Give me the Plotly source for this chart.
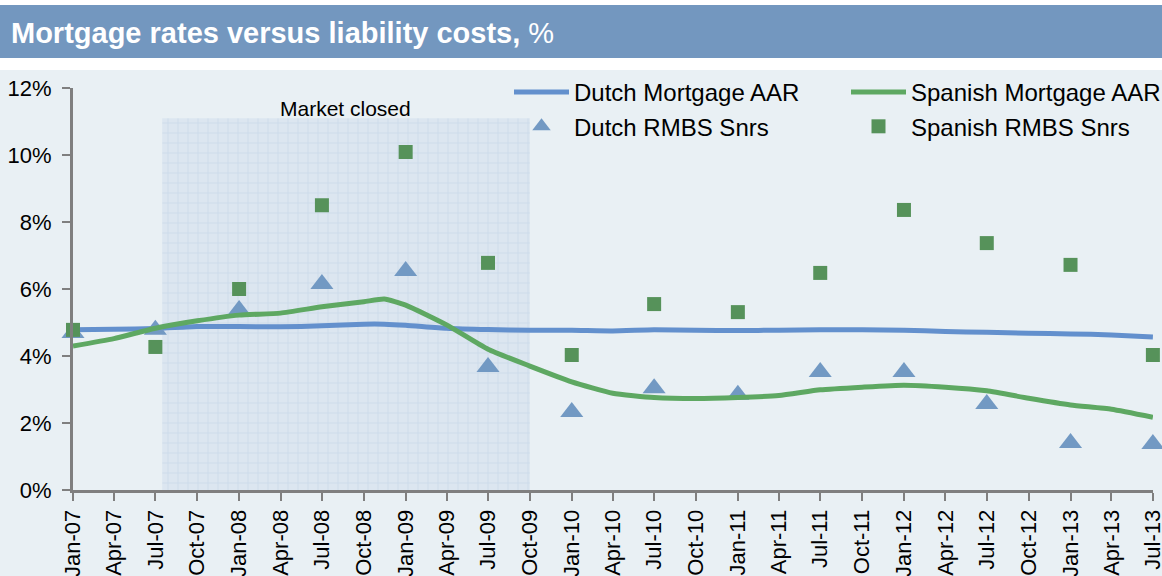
import plotly.graph_objects as go

# ---- data ----
line_dates = ["2007-01-01","2007-04-01","2007-07-01","2007-10-01","2008-01-01","2008-04-01",
              "2008-07-01","2008-10-01","2008-11-15","2009-01-01","2009-04-01","2009-07-01",
              "2009-10-01","2010-01-01","2010-04-01","2010-07-01","2010-10-01","2011-01-01",
              "2011-04-01","2011-07-01","2011-10-01","2012-01-01","2012-04-01","2012-07-01",
              "2012-10-01","2013-01-01","2013-04-01","2013-07-01"]
dutch_aar = [4.78,4.80,4.82,4.88,4.88,4.87,4.90,4.95,4.95,4.92,4.83,4.79,4.77,4.77,4.75,4.78,
             4.77,4.76,4.77,4.78,4.78,4.77,4.73,4.71,4.68,4.66,4.63,4.57]
spanish_aar = [4.30,4.52,4.83,5.05,5.22,5.28,5.47,5.62,5.70,5.52,4.93,4.20,3.70,3.23,2.89,2.76,
               2.73,2.76,2.82,2.99,3.07,3.13,3.07,2.96,2.74,2.54,2.41,2.17]

rmbs_dates = ["2007-01-01","2007-07-01","2008-01-01","2008-07-01","2009-01-01","2009-07-01",
              "2010-01-01","2010-07-01","2011-01-01","2011-07-01","2012-01-01","2012-07-01",
              "2013-01-01","2013-07-01"]
dutch_rmbs = [4.69,4.78,5.37,6.15,6.54,3.67,2.33,3.04,2.84,3.52,3.52,2.57,1.40,1.37]
spanish_rmbs = [4.78,4.27,6.00,8.50,10.09,6.78,4.03,5.55,5.31,6.48,8.36,7.37,6.72,4.03]

closed_start, closed_end, closed_top = "2007-07-16", "2009-10-01", 11.1
y_ticks = [0, 2, 4, 6, 8, 10, 12]
y_labels = ["0%", "2%", "4%", "6%", "8%", "10%", "12%"]

FONT = "Liberation Sans, Arial, sans-serif"
W, H = 1162, 576
ML, MR, MT, MB = 73, 9, 88, 86
PW, PH = W - ML - MR, H - MT - MB

def px_x(p):
    return (p - ML) / PW

def px_y(p):
    return (H - MB - p) / PH

fig = go.Figure()

# market closed shaded region
fig.add_trace(go.Scatter(
    x=[closed_start, closed_start, closed_end, closed_end, closed_start],
    y=[0, closed_top, closed_top, 0, 0],
    mode="lines", fill="toself", line=dict(width=0),
    fillcolor="#DCE6F0",
    fillpattern=dict(shape="+", size=10, solidity=0.15, fgcolor="#BACDE3", bgcolor="#DCE6F0"),
    showlegend=False, hoverinfo="skip",
))

fig.add_trace(go.Scatter(
    x=line_dates, y=dutch_aar, mode="lines", name="Dutch Mortgage AAR",
    line=dict(color="#6390CD", width=5, shape="spline", smoothing=0.5),
    legend="legend", legendgroup="a", cliponaxis=False,
))
fig.add_trace(go.Scatter(
    x=rmbs_dates, y=dutch_rmbs, mode="markers", name="Dutch RMBS Snrs",
    marker=dict(symbol="triangle-up", size=20, color="#7299C3"),
    legend="legend", legendgroup="b", cliponaxis=False,
))
fig.add_trace(go.Scatter(
    x=line_dates, y=spanish_aar, mode="lines", name="Spanish Mortgage AAR",
    line=dict(color="#5EA862", width=5, shape="spline", smoothing=0.5),
    legend="legend2", legendgroup="c", cliponaxis=False,
))
fig.add_trace(go.Scatter(
    x=rmbs_dates, y=spanish_rmbs, mode="markers", name="Spanish RMBS Snrs",
    marker=dict(symbol="square", size=14, color="#56925A"),
    legend="legend2", legendgroup="d", cliponaxis=False,
))

shapes = [
    # light background below title
    dict(type="rect", xref="paper", yref="paper", x0=px_x(0), x1=px_x(W), y0=px_y(H), y1=px_y(70),
         fillcolor="#E9F0F4", line=dict(width=0), layer="below"),
    # title bar
    dict(type="rect", xref="paper", yref="paper", x0=px_x(0), x1=px_x(W), y0=px_y(58), y1=px_y(5),
         fillcolor="#7397BF", line=dict(width=0), layer="below"),
]

annotations = [
    dict(text="<b>Mortgage rates versus liability costs,</b> %", xref="paper", yref="paper",
         x=px_x(9), y=px_y(33), xanchor="left", yanchor="middle", showarrow=False,
         font=dict(family=FONT, size=29, color="white")),
    dict(text="Market closed", xref="paper", yref="paper", x=px_x(345), y=px_y(108),
         xanchor="center", yanchor="middle", showarrow=False,
         font=dict(family=FONT, size=21, color="black")),
]

legend_common = dict(
    orientation="v", bgcolor="rgba(0,0,0,0)", font=dict(family=FONT, size=24, color="black"),
    xanchor="left", yanchor="top", itemwidth=55, tracegroupgap=0,
    itemclick=False, itemdoubleclick=False,
)

fig.update_layout(
    width=W, height=H,
    margin=dict(l=ML, r=MR, t=MT, b=MB, autoexpand=False),
    paper_bgcolor="white", plot_bgcolor="rgba(0,0,0,0)",
    shapes=shapes, annotations=annotations,
    legend=dict(**legend_common, x=px_x(509), y=px_y(70)),
    legend2=dict(**legend_common, x=px_x(846), y=px_y(70)),
    font=dict(family=FONT),
    xaxis=dict(
        type="date", range=["2007-01-01", "2013-07-01 06:00"],
        tick0="2007-01-01", dtick="M3", tickformat="%b-%y", tickangle=-90,
        ticks="outside", ticklen=8, tickwidth=2, tickcolor="#7F7F7F", ticklabeloverflow="allow",
        showline=True, linecolor="#7F7F7F", linewidth=3, showgrid=False, zeroline=False,
        tickfont=dict(family=FONT, size=22, color="black"), automargin=False,
    ),
    yaxis=dict(
        range=[0, 12], tickvals=y_ticks, ticktext=y_labels,
        ticks="outside", ticklen=8, tickwidth=2, tickcolor="#7F7F7F", ticklabelstandoff=6,
        showline=True, linecolor="#7F7F7F", linewidth=3, showgrid=False, zeroline=False,
        tickfont=dict(family=FONT, size=22, color="black"), automargin=False,
    ),
)

fig.write_html("out.html", config={"displayModeBar": False},
               post_script="document.body.style.margin='0';document.body.style.overflow='hidden';")
